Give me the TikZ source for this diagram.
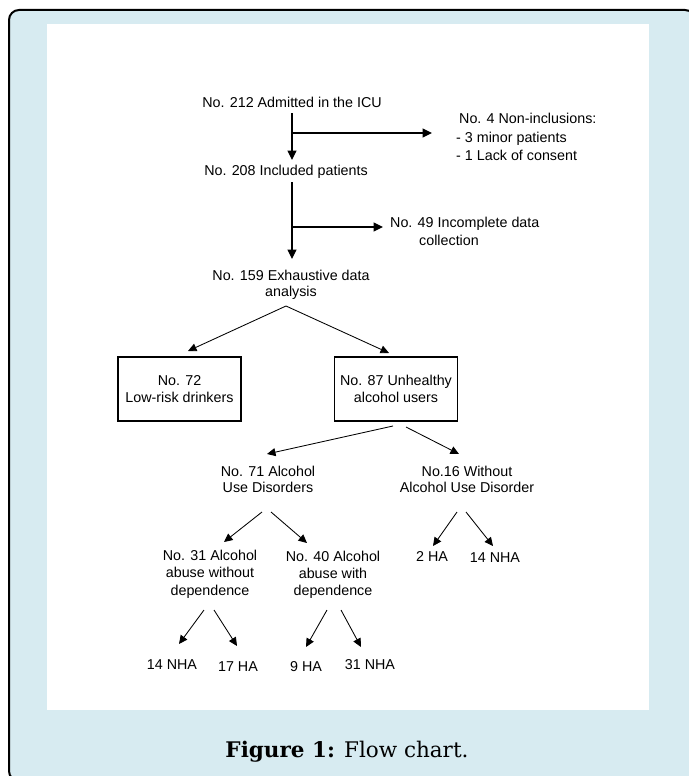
\documentclass[tikz,border=0pt]{standalone}
\usepackage{fontspec}
\setmainfont{Liberation Sans}
\newfontfamily\capfont{DejaVu Serif}
\usetikzlibrary{arrows.meta}
\definecolor{panel}{RGB}{215,235,241}
\begin{document}
\begin{tikzpicture}[x=1pt,y=-1pt,
  every node/.style={font=\fontsize{14.3}{17}\selectfont, inner sep=0pt, align=center},
  arr/.style={-{Triangle[length=9.5pt,width=9pt]}, line width=1.1pt},
  darr/.style={-{Triangle[length=8.5pt,width=8pt]}, line width=0.85pt},
  box/.style={draw, line width=1.3pt, minimum width=123pt, minimum height=64pt}]
\useasboundingbox (0,0) rectangle (688,776);
\draw[line width=2pt, fill=panel, rounded corners=10pt] (9,10) rectangle (695,781);
\fill[white] (47,24) rectangle (649,710);

% text nodes
\node (t212) at (292,102) {No. 212 Admitted in the ICU};
\node[align=left, anchor=west, font=\fontsize{14.3}{18.5}\selectfont] (tnon) at (456,137)
  {\hspace*{3pt}No. 4 Non-inclusions:\\- 3 minor patients\\- 1 Lack of consent};
\node (t208) at (286,172) {No. 208 Included patients};
\node[align=left, anchor=west, font=\fontsize{14.3}{18}\selectfont] (t49) at (390,231)
  {No. 49 Incomplete data\\\hspace*{29pt}collection};
\node[font=\fontsize{14.3}{16}\selectfont] (t159) at (291,285) {No. 159 Exhaustive data\\analysis};
\node[box] (b72) at (179.5,389) {No. 72\\Low-risk drinkers};
\node[box] (b87) at (396,389) {No. 87 Unhealthy\\alcohol users};
\node[font=\fontsize{14.3}{16}\selectfont] (t71) at (268,479) {No. 71 Alcohol\\Use Disorders};
\node[font=\fontsize{14.3}{16}\selectfont] (t16) at (467,479) {No.16 Without\\Alcohol Use Disorder};
\node[font=\fontsize{14.3}{17.5}\selectfont] (t31) at (210,574) {No. 31 Alcohol\\abuse without\\dependence};
\node[font=\fontsize{14.3}{17}\selectfont] (t40) at (333,575) {No. 40 Alcohol\\abuse with\\dependence};
\node (h2) at (432,557) {2 HA};
\node (h14) at (495,558) {14 NHA};
\node (b14) at (172,665) {14 NHA};
\node (b17) at (238,667) {17 HA};
\node (b9) at (306,667) {9 HA};
\node (b31) at (370,665) {31 NHA};
\node (cap) at (347,752) {\capfont\fontsize{21.5}{24}\selectfont\textbf{Figure 1:} Flow chart.};

% connector points
\coordinate (c1) at (292,113);  \coordinate (c2) at (292,160);
\coordinate (c3) at (292,133);  \coordinate (c4) at (432,133);
\coordinate (c5) at (292,182);  \coordinate (c6) at (292,259);
\coordinate (c7) at (292,227);  \coordinate (c8) at (383,227);
\coordinate (c9) at (286,306);  \coordinate (c10) at (188,351); \coordinate (c11) at (389,353);
\coordinate (c12) at (393,426); \coordinate (c13) at (267,454);
\coordinate (c14) at (406,427); \coordinate (c15) at (459,454);
\coordinate (c16) at (262,512); \coordinate (c17) at (224,542);
\coordinate (c18) at (271,512); \coordinate (c19) at (307,543);
\coordinate (c20) at (457,512); \coordinate (c21) at (433,546);
\coordinate (c22) at (466,512); \coordinate (c23) at (493,546);
\coordinate (c24) at (204,610); \coordinate (c25) at (179,644);
\coordinate (c26) at (214,610); \coordinate (c27) at (237,646);
\coordinate (c28) at (327,610); \coordinate (c29) at (306,647);
\coordinate (c30) at (341,610); \coordinate (c31) at (361,647);

\draw[arr] (c1) -- (c2);
\draw[arr] (c3) -- (c4);
\draw[arr] (c5) -- (c6);
\draw[arr] (c7) -- (c8);
\draw[darr] (c9) -- (c10);
\draw[darr] (c9) -- (c11);
\draw[darr] (c12) -- (c13);
\draw[darr] (c14) -- (c15);
\draw[darr] (c16) -- (c17);
\draw[darr] (c18) -- (c19);
\draw[darr] (c20) -- (c21);
\draw[darr] (c22) -- (c23);
\draw[darr] (c24) -- (c25);
\draw[darr] (c26) -- (c27);
\draw[darr] (c28) -- (c29);
\draw[darr] (c30) -- (c31);
\end{tikzpicture}
\end{document}
